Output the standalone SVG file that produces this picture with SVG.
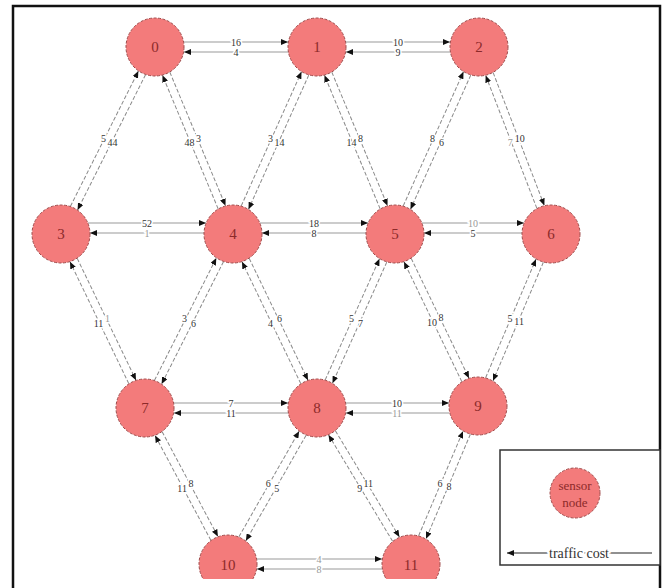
<svg xmlns="http://www.w3.org/2000/svg" width="669" height="588" viewBox="0 0 669 588">
<style>
.node{fill:#f37b7b;stroke:#a04a4a;stroke-width:1;stroke-dasharray:3 1.5}
.nl{font-family:"Liberation Serif",serif;font-size:15px;fill:#8c2a2a;text-anchor:middle;dominant-baseline:central}
.h{stroke:#9a9a9a;stroke-width:1.2;fill:none;marker-end:url(#ah)}
.d{stroke:#8a8a8a;stroke-width:1;stroke-dasharray:4 2;fill:none;marker-end:url(#ah)}
.el{font-family:"Liberation Serif",serif;font-size:10px;fill:#333;text-anchor:middle;dominant-baseline:central;stroke:#fff;stroke-width:3;paint-order:stroke}
.faint{fill:#999}
</style>
<defs>
<marker id="ah" markerUnits="userSpaceOnUse" markerWidth="7" markerHeight="6" refX="7" refY="3" orient="auto">
<path d="M0,0 L7,3 L0,6 z" fill="#111"/>
</marker>
<clipPath id="cut"><rect x="0" y="0" width="669" height="579"/></clipPath>
</defs>
<rect width="669" height="588" fill="#fff"/>
<path d="M13,588 V6 H660 V588" fill="none" stroke="#111" stroke-width="2.5"/>

<g id="connectors">
<line class="h" x1="184" y1="42" x2="288" y2="42"/><line class="h" x1="288" y1="52" x2="184" y2="52"/>
<text class="el" x="236" y="42">16</text><text class="el" x="236" y="52">4</text>
<line class="h" x1="346" y1="42" x2="450" y2="42"/><line class="h" x1="450" y1="52" x2="346" y2="52"/>
<text class="el" x="398" y="42">10</text><text class="el" x="398" y="52">9</text>
<line class="h" x1="88" y1="223" x2="206" y2="223"/><line class="h" x1="204" y1="233" x2="90" y2="233"/>
<text class="el" x="147" y="223">52</text><text class="el faint" x="147" y="233">1</text>
<line class="h" x1="260" y1="223" x2="368" y2="223"/><line class="h" x1="366" y1="233" x2="262" y2="233"/>
<text class="el" x="314" y="223">18</text><text class="el" x="314" y="233">8</text>
<line class="h" x1="422" y1="223" x2="524" y2="223"/><line class="h" x1="522" y1="233" x2="424" y2="233"/>
<text class="el faint" x="473" y="223">10</text><text class="el" x="473" y="233">5</text>
<line class="h" x1="174" y1="403" x2="288" y2="403"/><line class="h" x1="288" y1="413" x2="174" y2="413"/>
<text class="el" x="231" y="403">7</text><text class="el" x="231" y="413">11</text>
<line class="h" x1="346" y1="403" x2="449" y2="403"/><line class="h" x1="449" y1="413" x2="346" y2="413"/>
<text class="el" x="397" y="403">10</text><text class="el faint" x="397" y="413">11</text>
<line class="h" x1="257" y1="559" x2="382" y2="559"/><line class="h" x1="382" y1="569" x2="257" y2="569"/>
<text class="el faint" x="319" y="559">4</text><text class="el faint" x="319" y="569">8</text>

<g transform="translate(155,47) rotate(116.69)">
<line class="d" x1="29" y1="-4" x2="180.3" y2="-4"/><line class="d" x1="180.3" y1="4" x2="29" y2="4"/>
<text class="el" transform="translate(104.6,-5) rotate(-116.69)">44</text><text class="el" transform="translate(104.6,5) rotate(-116.69)">5</text></g>
<g transform="translate(155,47) rotate(67.36)">
<line class="d" x1="29" y1="-4" x2="173.6" y2="-4"/><line class="d" x1="173.6" y1="4" x2="29" y2="4"/>
<text class="el" transform="translate(101.3,-5) rotate(-67.36)">3</text><text class="el" transform="translate(101.3,5) rotate(-67.36)">48</text></g>
<g transform="translate(317,47) rotate(114.19)">
<line class="d" x1="29" y1="-4" x2="176" y2="-4"/><line class="d" x1="176" y1="4" x2="29" y2="4"/>
<text class="el" transform="translate(102.5,-5) rotate(-114.19)">14</text><text class="el" transform="translate(102.5,5) rotate(-114.19)">3</text></g>
<g transform="translate(317,47) rotate(67.36)">
<line class="d" x1="29" y1="-4" x2="173.6" y2="-4"/><line class="d" x1="173.6" y1="4" x2="29" y2="4"/>
<text class="el" transform="translate(101.3,-5) rotate(-67.36)">8</text><text class="el" transform="translate(101.3,5) rotate(-67.36)">14</text></g>
<g transform="translate(479,47) rotate(114.19)">
<line class="d" x1="29" y1="-4" x2="176" y2="-4"/><line class="d" x1="176" y1="4" x2="29" y2="4"/>
<text class="el" transform="translate(102.5,-5) rotate(-114.19)">6</text><text class="el" transform="translate(102.5,5) rotate(-114.19)">8</text></g>
<g transform="translate(479,47) rotate(68.94)">
<line class="d" x1="29" y1="-4" x2="171.4" y2="-4"/><line class="d" x1="171.4" y1="4" x2="29" y2="4"/>
<text class="el" transform="translate(100.2,-5) rotate(-68.94)">10</text><text class="el faint" transform="translate(100.2,5) rotate(-68.94)">7</text></g>
<g transform="translate(61,234) rotate(64.23)">
<line class="d" x1="29" y1="-4" x2="164.2" y2="-4"/><line class="d" x1="164.2" y1="4" x2="29" y2="4"/>
<text class="el faint" transform="translate(96.6,-5) rotate(-64.23)">1</text><text class="el" transform="translate(96.6,5) rotate(-64.23)">11</text></g>
<g transform="translate(233,234) rotate(116.83)">
<line class="d" x1="29" y1="-4" x2="166" y2="-4"/><line class="d" x1="166" y1="4" x2="29" y2="4"/>
<text class="el" transform="translate(97.5,-5) rotate(-116.83)">6</text><text class="el" transform="translate(97.5,5) rotate(-116.83)">3</text></g>
<g transform="translate(233,234) rotate(64.23)">
<line class="d" x1="29" y1="-4" x2="164.2" y2="-4"/><line class="d" x1="164.2" y1="4" x2="29" y2="4"/>
<text class="el" transform="translate(96.6,-5) rotate(-64.23)">6</text><text class="el" transform="translate(96.6,5) rotate(-64.23)">4</text></g>
<g transform="translate(395,234) rotate(114.15)">
<line class="d" x1="29" y1="-4" x2="161.7" y2="-4"/><line class="d" x1="161.7" y1="4" x2="29" y2="4"/>
<text class="el" transform="translate(95.35,-5) rotate(-114.15)">7</text><text class="el" transform="translate(95.35,5) rotate(-114.15)">5</text></g>
<g transform="translate(395,234) rotate(64.24)">
<line class="d" x1="29" y1="-4" x2="162" y2="-4"/><line class="d" x1="162" y1="4" x2="29" y2="4"/>
<text class="el" transform="translate(95.5,-5) rotate(-64.24)">8</text><text class="el" transform="translate(95.5,5) rotate(-64.24)">10</text></g>
<g transform="translate(551,234) rotate(113)">
<line class="d" x1="29" y1="-4" x2="157.85" y2="-4"/><line class="d" x1="157.85" y1="4" x2="29" y2="4"/>
<text class="el" transform="translate(93.4,-5) rotate(-113)">11</text><text class="el" transform="translate(93.4,5) rotate(-113)">5</text></g>
<g transform="translate(145,408) rotate(61.99)">
<line class="d" x1="29" y1="-4" x2="147.7" y2="-4"/><line class="d" x1="147.7" y1="4" x2="29" y2="4"/>
<text class="el" transform="translate(88.35,-5) rotate(-61.99)">8</text><text class="el" transform="translate(88.35,5) rotate(-61.99)">11</text></g>
<g transform="translate(317,408) rotate(119.7)">
<line class="d" x1="29" y1="-4" x2="150.6" y2="-4"/><line class="d" x1="150.6" y1="4" x2="29" y2="4"/>
<text class="el" transform="translate(89.8,-5) rotate(-119.7)">5</text><text class="el" transform="translate(89.8,5) rotate(-119.7)">6</text></g>
<g transform="translate(317,408) rotate(58.93)">
<line class="d" x1="29" y1="-4" x2="153.1" y2="-4"/><line class="d" x1="153.1" y1="4" x2="29" y2="4"/>
<text class="el" transform="translate(91.05,-5) rotate(-58.93)">11</text><text class="el" transform="translate(91.05,5) rotate(-58.93)">9</text></g>
<g transform="translate(478,406) rotate(112.97)">
<line class="d" x1="29" y1="-4" x2="142.6" y2="-4"/><line class="d" x1="142.6" y1="4" x2="29" y2="4"/>
<text class="el" transform="translate(85.8,-5) rotate(-112.97)">8</text><text class="el" transform="translate(85.8,5) rotate(-112.97)">6</text></g>
</g>

<g id="n0"><circle class="node" cx="155" cy="47" r="29"/><text class="nl" x="155" y="47">0</text></g>
<g id="n1"><circle class="node" cx="317" cy="47" r="29"/><text class="nl" x="317" y="47">1</text></g>
<g id="n2"><circle class="node" cx="479" cy="47" r="29"/><text class="nl" x="479" y="47">2</text></g>
<g id="n3"><circle class="node" cx="61" cy="234" r="29"/><text class="nl" x="61" y="234">3</text></g>
<g id="n4"><circle class="node" cx="233" cy="234" r="29"/><text class="nl" x="233" y="234">4</text></g>
<g id="n5"><circle class="node" cx="395" cy="234" r="29"/><text class="nl" x="395" y="234">5</text></g>
<g id="n6"><circle class="node" cx="551" cy="234" r="29"/><text class="nl" x="551" y="234">6</text></g>
<g id="n7"><circle class="node" cx="145" cy="408" r="29"/><text class="nl" x="145" y="408">7</text></g>
<g id="n8"><circle class="node" cx="317" cy="408" r="29"/><text class="nl" x="317" y="408">8</text></g>
<g id="n9"><circle class="node" cx="478" cy="406" r="29"/><text class="nl" x="478" y="406">9</text></g>
<g id="n10" clip-path="url(#cut)"><circle class="node" cx="228" cy="564" r="29"/><text class="nl" x="228" y="565">10</text></g>
<g id="n11" clip-path="url(#cut)"><circle class="node" cx="411" cy="564" r="29"/><text class="nl" x="411" y="565">11</text></g>

<g id="legend">
<rect x="500" y="450" width="160" height="115" fill="#fff" stroke="#333" stroke-width="1.5"/>
<circle class="node" cx="575" cy="493" r="25"/>
<text class="nl" x="575" y="485" style="font-size:13px">sensor</text>
<text class="nl" x="575" y="502" style="font-size:13px">node</text>
<line x1="652" y1="553" x2="507" y2="553" stroke="#222" stroke-width="1.2" marker-end="url(#ah)"/>
<text x="579" y="553" style="font-family:'Liberation Serif',serif;font-size:14px;fill:#333;text-anchor:middle;dominant-baseline:central;stroke:#fff;stroke-width:4;paint-order:stroke">traffic cost</text>
</g>
</svg>
